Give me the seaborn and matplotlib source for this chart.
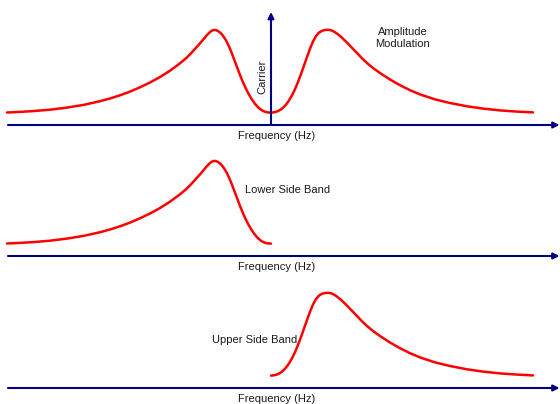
import numpy as np
import pandas as pd
import matplotlib
matplotlib.use("Agg")
import matplotlib.pyplot as plt
import seaborn as sns

sns.set_style("white")
plt.rcParams["font.family"] = ["Liberation Sans", "DejaVu Sans"]

# -------------------------
# Data (frequency offset from carrier, relative amplitude)
# -------------------------

lsb_freq = [-26.4, -25.1, -23.8, -22.1, -20.4, -18.7, -17.1, -16.1, -15.1, -14.1,
            -13.1, -12.1, -11.1, -10.1, -9.1, -8.5, -8.0, -7.6, -7.2, -6.9,
            -6.6, -6.35, -6.1, -5.9, -5.7, -5.5, -5.3, -5.1, -4.9, -4.7,
            -4.45, -4.2, -3.95, -3.7, -3.4, -3.1, -2.8, -2.5, -2.2, -1.9,
            -1.6, -1.3, -1.0, -0.7, -0.4, 0.0]
lsb_amp = [0.125, 0.131, 0.139, 0.153, 0.174, 0.202, 0.238, 0.265, 0.297, 0.334,
           0.377, 0.425, 0.480, 0.543, 0.617, 0.667, 0.717, 0.761, 0.805, 0.840,
           0.876, 0.905, 0.930, 0.944, 0.951, 0.949, 0.940, 0.925, 0.905, 0.878,
           0.837, 0.785, 0.725, 0.660, 0.580, 0.500, 0.427, 0.362, 0.304, 0.254,
           0.212, 0.178, 0.152, 0.136, 0.127, 0.124]

usb_freq = [0.0, 0.3, 0.6, 0.9, 1.2, 1.5, 1.8, 2.1, 2.4, 2.7,
            3.0, 3.3, 3.6, 3.9, 4.2, 4.5, 4.8, 5.1, 5.4, 5.7,
            6.0, 6.3, 6.6, 7.0, 7.5, 8.0, 8.6, 9.1, 9.6, 10.2,
            10.9, 11.9, 12.9, 13.9, 14.9, 16.4, 17.9, 19.6, 21.2, 22.9,
            24.6, 26.2]
usb_amp = [0.124, 0.127, 0.135, 0.150, 0.172, 0.204, 0.245, 0.297, 0.358, 0.430,
           0.510, 0.595, 0.680, 0.762, 0.835, 0.890, 0.924, 0.942, 0.950, 0.952,
           0.948, 0.934, 0.914, 0.882, 0.834, 0.782, 0.720, 0.667, 0.620, 0.570,
           0.520, 0.455, 0.398, 0.348, 0.306, 0.256, 0.220, 0.187, 0.164, 0.146,
           0.134, 0.126]

carrier_freq = 0.0
carrier_amp = 1.13

panel_titles = ["Amplitude\nModulation", "Lower Side Band", "Upper Side Band"]
xlabel = "Frequency (Hz)"

# -------------------------
# Style
# -------------------------

RED = "#ff0000"
NAVY = "#000080"
TXT = "#1a1a1a"
FS = 8

W, H = 560, 404
fig = plt.figure(figsize=(W / 100, H / 100), dpi=100)

# axis line y-position (pixels from top) for each panel
axis_px = [125, 256, 388]

am = pd.DataFrame({"freq": lsb_freq + usb_freq[1:], "amp": lsb_amp + usb_amp[1:]})
lsb = pd.DataFrame({"freq": lsb_freq, "amp": lsb_amp})
usb = pd.DataFrame({"freq": usb_freq, "amp": usb_amp})
spectra = [am, lsb, usb]

x0, x1 = -27.1, 28.9
axis_start = -26.3

for k, (ypx, df) in enumerate(zip(axis_px, spectra)):
    bottom = (H - ypx - 15) / H
    ax = fig.add_axes([0, bottom, 1, 140 / H])
    ax.set_facecolor("none")
    ax.set_xlim(x0, x1)
    ax.set_ylim(-0.15, 1.25)
    ax.axis("off")

    sns.lineplot(data=df, x="freq", y="amp", ax=ax, color=RED, lw=1.8,
                 sort=False, estimator=None, solid_joinstyle="round",
                 solid_capstyle="round")

    # frequency axis arrow
    ax.annotate("", xy=(x1 - 0.05, 0), xytext=(axis_start, 0),
                arrowprops=dict(arrowstyle="-|>", color=NAVY, lw=1.5,
                                mutation_scale=9, shrinkA=0, shrinkB=0))
    ax.text(0.6, -0.11, xlabel, ha="center", va="center", fontsize=FS, color=TXT)

    if k == 0:
        ax.annotate("", xy=(carrier_freq, carrier_amp), xytext=(carrier_freq, 0),
                    arrowprops=dict(arrowstyle="-|>", color=NAVY, lw=1.5,
                                    mutation_scale=9, shrinkA=0, shrinkB=0))
        ax.text(-0.85, 0.485, "Carrier", rotation=90, ha="center", va="center",
                fontsize=FS, color=TXT)
        ax.text(13.2, 0.87, panel_titles[0], ha="center", va="center",
                fontsize=FS, color=TXT, linespacing=1.2)
    elif k == 1:
        ax.text(-2.6, 0.66, panel_titles[1], ha="left", va="center",
                fontsize=FS, color=TXT)
    else:
        ax.text(2.6, 0.48, panel_titles[2], ha="right", va="center",
                fontsize=FS, color=TXT)

fig.savefig("out.png", dpi=100)
plt.close(fig)
